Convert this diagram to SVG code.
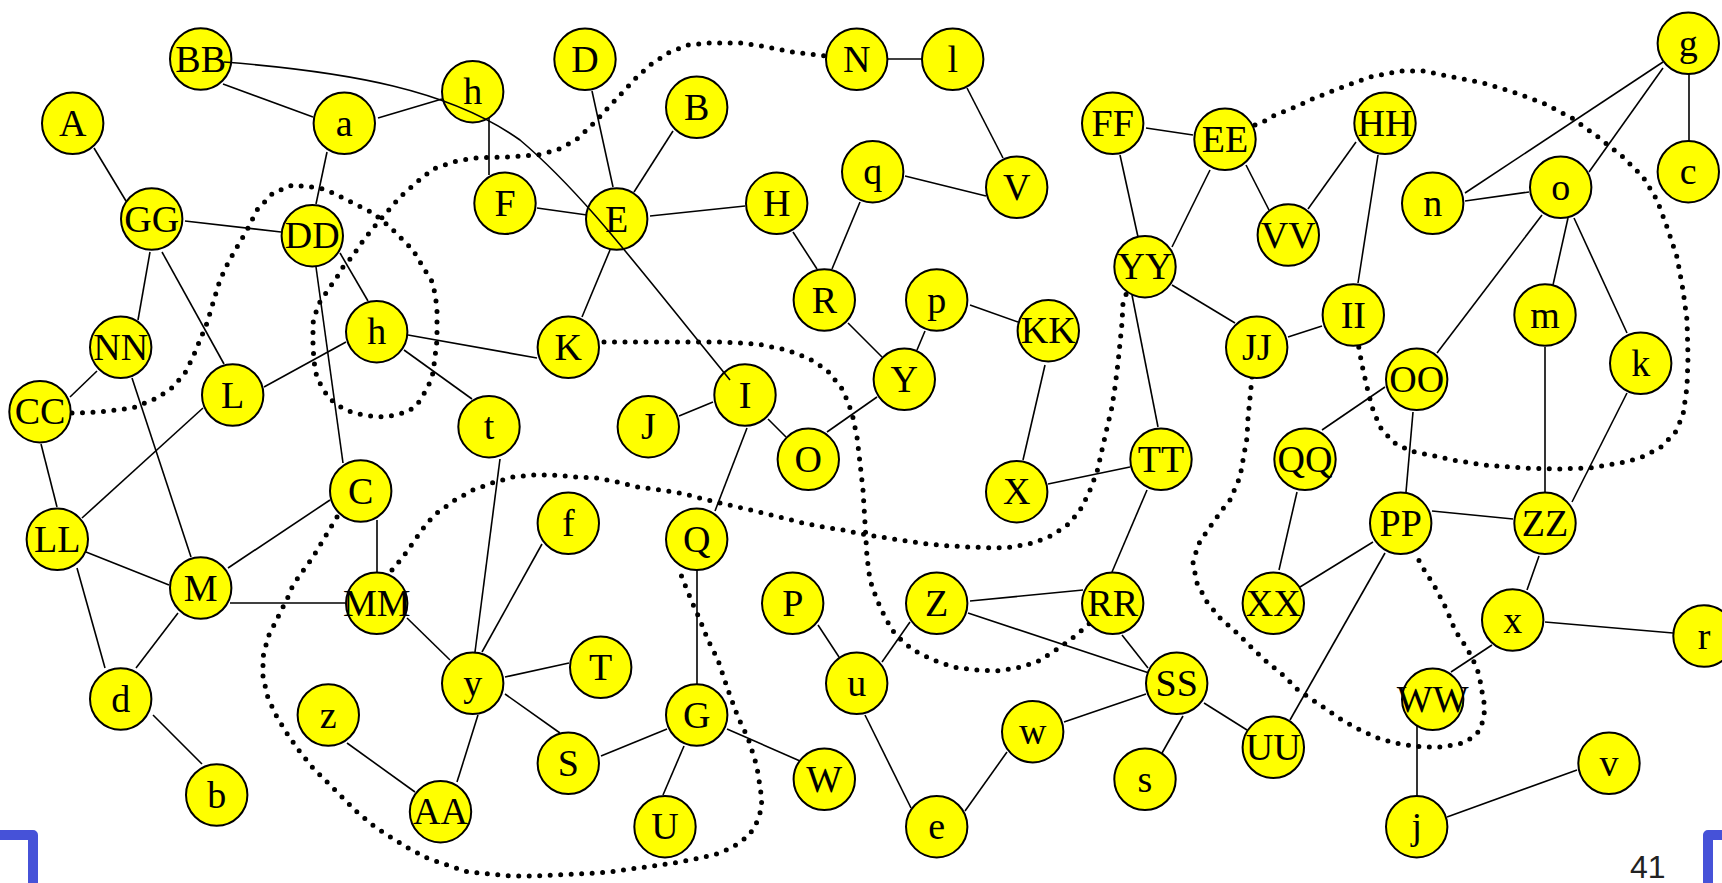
<svg xmlns="http://www.w3.org/2000/svg" width="1722" height="883" viewBox="0 0 1722 883">
<style>
.node circle{fill:#ffff00;stroke:#000;stroke-width:2}
.node text{font-family:"Liberation Serif","Times New Roman",serif;font-size:38px;text-anchor:middle;fill:#000}
.edge line,.edge path{stroke:#000;stroke-width:1.6;fill:none}
.edge path.dot{stroke:#000;stroke-width:5;stroke-dasharray:0 10.5;stroke-linecap:round;stroke-linejoin:round;fill:none}
.frame{stroke:#4652d8;stroke-width:10;fill:none;stroke-linejoin:round}
.pagenum{font-family:"Liberation Sans",Arial,sans-serif;font-size:32px;fill:#222}
</style>
<rect width="1722" height="883" fill="#fff"/>
<g id="connectors" class="edge">
<line x1="223" y1="84" x2="313" y2="117"/>
<line x1="378" y1="118" x2="442" y2="99"/>
<line x1="327" y1="152" x2="316" y2="204"/>
<line x1="489" y1="115" x2="489" y2="175"/>
<line x1="592" y1="91" x2="613" y2="187"/>
<line x1="673" y1="131" x2="634" y2="192"/>
<line x1="537" y1="208" x2="587" y2="215"/>
<line x1="650" y1="216" x2="745" y2="206"/>
<line x1="610" y1="250" x2="582" y2="317"/>
<line x1="793" y1="232" x2="817" y2="269"/>
<line x1="860" y1="202" x2="832" y2="269"/>
<line x1="886" y1="59" x2="924" y2="59"/>
<line x1="967" y1="88" x2="1003" y2="158"/>
<line x1="905" y1="176" x2="986" y2="196"/>
<line x1="1146" y1="128" x2="1193" y2="135"/>
<line x1="1120" y1="155" x2="1138" y2="237"/>
<line x1="1210" y1="170" x2="1172" y2="247"/>
<line x1="1246" y1="165" x2="1269" y2="210"/>
<line x1="1172" y1="285" x2="1235" y2="323"/>
<line x1="1132" y1="295" x2="1158" y2="427"/>
<line x1="1356" y1="142" x2="1308" y2="209"/>
<line x1="1378" y1="155" x2="1358" y2="283"/>
<line x1="1663" y1="62" x2="1465" y2="193"/>
<line x1="1663" y1="68" x2="1589" y2="172"/>
<line x1="1689" y1="74" x2="1689" y2="141"/>
<line x1="1465" y1="201" x2="1529" y2="192"/>
<line x1="1542" y1="215" x2="1437" y2="353"/>
<line x1="1568" y1="218" x2="1553" y2="285"/>
<line x1="1574" y1="218" x2="1627" y2="333"/>
<line x1="94" y1="148" x2="126" y2="201"/>
<line x1="185" y1="221" x2="281" y2="232"/>
<line x1="150" y1="252" x2="138" y2="320"/>
<line x1="162" y1="252" x2="224" y2="364"/>
<line x1="316" y1="267" x2="343" y2="463"/>
<line x1="340" y1="253" x2="368" y2="301"/>
<line x1="97" y1="371" x2="70" y2="397"/>
<line x1="132" y1="378" x2="191" y2="557"/>
<line x1="41" y1="444" x2="57" y2="507"/>
<line x1="203" y1="408" x2="82" y2="518"/>
<line x1="264" y1="387" x2="346" y2="342"/>
<line x1="408" y1="335" x2="537" y2="358"/>
<line x1="404" y1="350" x2="472" y2="399"/>
<line x1="330" y1="500" x2="228" y2="568"/>
<line x1="377" y1="520" x2="377" y2="573"/>
<line x1="86" y1="552" x2="169" y2="585"/>
<line x1="77" y1="568" x2="105" y2="668"/>
<line x1="230" y1="603" x2="345" y2="603"/>
<line x1="178" y1="613" x2="136" y2="668"/>
<line x1="153" y1="715" x2="202" y2="764"/>
<line x1="347" y1="743" x2="415" y2="792"/>
<line x1="713" y1="402" x2="679" y2="416"/>
<line x1="768" y1="419" x2="786" y2="437"/>
<line x1="827" y1="432" x2="877" y2="397"/>
<line x1="747" y1="428" x2="715" y2="511"/>
<line x1="500" y1="459" x2="475" y2="652"/>
<line x1="542" y1="544" x2="482" y2="652"/>
<line x1="848" y1="323" x2="882" y2="357"/>
<line x1="925" y1="331" x2="917" y2="350"/>
<line x1="970" y1="305" x2="1018" y2="322"/>
<line x1="1045" y1="365" x2="1023" y2="460"/>
<line x1="1048" y1="484" x2="1130" y2="467"/>
<line x1="1147" y1="490" x2="1112" y2="572"/>
<line x1="1288" y1="337" x2="1322" y2="326"/>
<line x1="1297" y1="492" x2="1279" y2="570"/>
<line x1="1385" y1="387" x2="1322" y2="430"/>
<line x1="1413" y1="412" x2="1406" y2="492"/>
<line x1="1545" y1="347" x2="1545" y2="492"/>
<line x1="1627" y1="393" x2="1572" y2="502"/>
<line x1="1432" y1="511" x2="1513" y2="519"/>
<line x1="1373" y1="542" x2="1300" y2="587"/>
<line x1="1385" y1="553" x2="1290" y2="720"/>
<line x1="1539" y1="556" x2="1527" y2="590"/>
<line x1="407" y1="618" x2="450" y2="660"/>
<line x1="505" y1="677" x2="569" y2="663"/>
<line x1="505" y1="694" x2="560" y2="733"/>
<line x1="478" y1="715" x2="457" y2="782"/>
<line x1="601" y1="756" x2="667" y2="729"/>
<line x1="697" y1="569" x2="697" y2="685"/>
<line x1="684" y1="746" x2="663" y2="795"/>
<line x1="727" y1="729" x2="800" y2="761"/>
<line x1="818" y1="625" x2="839" y2="657"/>
<line x1="882" y1="662" x2="910" y2="622"/>
<line x1="865" y1="715" x2="911" y2="808"/>
<line x1="970" y1="601" x2="1083" y2="590"/>
<line x1="968" y1="613" x2="1149" y2="673"/>
<line x1="1122" y1="635" x2="1148" y2="668"/>
<line x1="1146" y1="694" x2="1064" y2="722"/>
<line x1="1007" y1="752" x2="965" y2="811"/>
<line x1="1183" y1="716" x2="1162" y2="753"/>
<line x1="1204" y1="703" x2="1247" y2="730"/>
<line x1="1545" y1="622" x2="1673" y2="633"/>
<line x1="1492" y1="645" x2="1451" y2="672"/>
<line x1="1417" y1="726" x2="1417" y2="798"/>
<line x1="1447" y1="817" x2="1577" y2="770"/>
<path class="dot" d="M72,413 L100,412 L133,408 L157,398 L173,387 L185,373 L193,357 L200,340 L207,323 L213,303 L220,280 L228,263 L237,247 L247,230 L257,210 L273,193 L293,185 L320,188 L333,193 L353,203 L373,213 L390,227 L403,240 L413,250 L423,267 L433,283 L437,307 L437,323 L437,340 L435,357 L433,373 L428,387 L417,405 L407,412 L390,416 L377,417 L353,413 L337,405 L328,397 L318,380 L315,370 L313,348 L313,323 L318,305 L328,290 L337,277 L343,267 L352,257 L358,248 L365,238 L380,220 L400,197 L417,182 L433,169 L453,162 L474,158 L507,157 L538,155 L557,150 L576,140 L592,125 L606,110 L621,94 L635,79 L650,65 L668,53 L688,45 L709,43 L741,43 L762,46 L793,52 L825,56"/>
<path class="dot" d="M1255,125 L1263,122 L1273,116 L1283,112 L1300,105 L1310,100 L1340,88 L1370,77 L1400,71 L1423,71 L1453,77 L1483,83 L1513,92 L1543,103 L1572,118 L1598,137 L1623,157 L1643,177 L1657,200 L1667,227 L1677,257 L1683,290 L1687,320 L1688,357 L1687,387 L1683,415 L1675,433 L1660,448 L1640,458 L1620,463 L1590,468 L1557,469 L1523,468 L1483,465 L1453,460 L1430,455 L1410,451 L1393,442 L1380,427 L1372,407 L1367,387 L1362,365 L1358,343"/>
<path class="dot" d="M604,342 L643,342 L683,342 L723,342 L757,344 L787,350 L808,358 L827,370 L843,390 L852,413 L857,437 L860,463 L863,490 L865,523 L867,557 L870,580 L877,600 L883,613 L892,630 L903,642 L915,651 L933,660 L953,667 L975,670 L997,671 L1017,668 L1037,662 L1053,652 L1070,640 L1082,630 L1090,623"/>
<path class="dot" d="M392,570 L403,557 L417,537 L427,523 L437,513 L455,500 L473,490 L492,483 L513,477 L533,475 L553,475 L577,477 L597,478 L617,482 L638,487 L660,490 L680,493 L700,498 L720,503 L742,508 L763,513 L783,518 L803,523 L823,527 L843,530 L867,535 L887,538 L907,541 L927,544 L950,546 L970,547 L992,548 L1013,547 L1033,543 L1053,535 L1070,523 L1082,507 L1090,490 L1097,472 L1102,450 L1107,428 L1112,407 L1115,387 L1118,363 L1120,343 L1122,323 L1123,303 L1127,292"/>
<path class="dot" d="M337,517 L325,537 L313,557 L300,575 L293,585 L288,597 L278,617 L268,637 L263,657 L263,677 L268,698 L277,717 L288,735 L300,752 L313,768 L328,783 L343,798 L358,813 L375,827 L392,838 L408,848 L427,858 L447,865 L468,872 L490,874 L510,876 L532,876 L553,875 L575,874 L597,873 L617,871 L638,868 L660,865 L680,862 L700,858 L720,853 L733,847 L747,837 L755,827 L760,813 L762,800 L760,787 L758,773 L755,760 L748,738 L738,717 L728,690 L718,660 L708,640 L700,620 L692,602 L683,580 L680,572"/>
<path class="dot" d="M1252,377 L1250,398 L1248,418 L1247,438 L1243,460 L1240,477 L1230,500 L1222,510 L1210,527 L1203,537 L1198,545 L1193,563 L1197,583 L1207,602 L1220,618 L1237,633 L1252,648 L1267,662 L1283,675 L1298,690 L1323,707 L1342,720 L1360,730 L1380,739 L1400,744 L1422,747 L1443,747 L1463,743 L1473,737 L1480,730 L1483,720 L1485,708 L1483,697 L1480,680 L1477,668 L1472,658 L1467,648 L1460,638 L1455,630 L1448,613 L1443,602 L1438,593 L1433,583 L1427,575 L1417,557"/>
</g>
<g id="nodes">
<g id="node-BB" class="node" transform="translate(200.7,59)"><circle r="30.7"/><text y="12.5">BB</text></g>
<g id="node-A" class="node" transform="translate(72.7,123.3)"><circle r="30.7"/><text y="12.5">A</text></g>
<g id="node-a" class="node" transform="translate(344.3,123.3)"><circle r="30.7"/><text y="12.5">a</text></g>
<g id="node-h1" class="node" transform="translate(472.7,91.7)"><circle r="30.7"/><text y="12.5">h</text></g>
<g id="node-D" class="node" transform="translate(585,59.3)"><circle r="30.7"/><text y="12.5">D</text></g>
<g id="node-B" class="node" transform="translate(696.7,107.3)"><circle r="30.7"/><text y="12.5">B</text></g>
<g id="node-N" class="node" transform="translate(856.7,59.3)"><circle r="30.7"/><text y="12.5">N</text></g>
<g id="node-l" class="node" transform="translate(952.7,59.3)"><circle r="30.7"/><text y="12.5">l</text></g>
<g id="node-GG" class="node" transform="translate(151.7,219)"><circle r="30.7"/><text y="12.5">GG</text></g>
<g id="node-DD" class="node" transform="translate(312.3,235.7)"><circle r="30.7"/><text y="12.5">DD</text></g>
<g id="node-F" class="node" transform="translate(505,203.3)"><circle r="30.7"/><text y="12.5">F</text></g>
<g id="node-E" class="node" transform="translate(616.7,219)"><circle r="30.7"/><text y="12.5">E</text></g>
<g id="node-H" class="node" transform="translate(776.7,203.3)"><circle r="30.7"/><text y="12.5">H</text></g>
<g id="node-q" class="node" transform="translate(872.7,171.7)"><circle r="30.7"/><text y="12.5">q</text></g>
<g id="node-V" class="node" transform="translate(1016.7,187.3)"><circle r="30.7"/><text y="12.5">V</text></g>
<g id="node-FF" class="node" transform="translate(1112.7,123.3)"><circle r="30.7"/><text y="12.5">FF</text></g>
<g id="node-EE" class="node" transform="translate(1225,139.3)"><circle r="30.7"/><text y="12.5">EE</text></g>
<g id="node-VV" class="node" transform="translate(1288.3,235)"><circle r="30.7"/><text y="12.5">VV</text></g>
<g id="node-HH" class="node" transform="translate(1385,123.3)"><circle r="30.7"/><text y="12.5">HH</text></g>
<g id="node-YY" class="node" transform="translate(1145,266.7)"><circle r="30.7"/><text y="12.5">YY</text></g>
<g id="node-g" class="node" transform="translate(1688.3,43.3)"><circle r="30.7"/><text y="12.5">g</text></g>
<g id="node-n" class="node" transform="translate(1432.7,203.3)"><circle r="30.7"/><text y="12.5">n</text></g>
<g id="node-o" class="node" transform="translate(1560.7,187.3)"><circle r="30.7"/><text y="12.5">o</text></g>
<g id="node-c" class="node" transform="translate(1688.3,171.7)"><circle r="30.7"/><text y="12.5">c</text></g>
<g id="node-NN" class="node" transform="translate(120.7,347.3)"><circle r="30.7"/><text y="12.5">NN</text></g>
<g id="node-CC" class="node" transform="translate(40,411.7)"><circle r="30.7"/><text y="12.5">CC</text></g>
<g id="node-L" class="node" transform="translate(232.7,395)"><circle r="30.7"/><text y="12.5">L</text></g>
<g id="node-h2" class="node" transform="translate(376.7,331.7)"><circle r="30.7"/><text y="12.5">h</text></g>
<g id="node-K" class="node" transform="translate(568.3,347.3)"><circle r="30.7"/><text y="12.5">K</text></g>
<g id="node-R" class="node" transform="translate(824.3,300)"><circle r="30.7"/><text y="12.5">R</text></g>
<g id="node-p" class="node" transform="translate(936.7,300)"><circle r="30.7"/><text y="12.5">p</text></g>
<g id="node-KK" class="node" transform="translate(1048.3,330.7)"><circle r="30.7"/><text y="12.5">KK</text></g>
<g id="node-Y" class="node" transform="translate(904.3,379.3)"><circle r="30.7"/><text y="12.5">Y</text></g>
<g id="node-JJ" class="node" transform="translate(1256.7,347.3)"><circle r="30.7"/><text y="12.5">JJ</text></g>
<g id="node-II" class="node" transform="translate(1353.3,315)"><circle r="30.7"/><text y="12.5">II</text></g>
<g id="node-m" class="node" transform="translate(1545,315)"><circle r="30.7"/><text y="12.5">m</text></g>
<g id="node-k" class="node" transform="translate(1640.7,363.3)"><circle r="30.7"/><text y="12.5">k</text></g>
<g id="node-OO" class="node" transform="translate(1416.7,379.3)"><circle r="30.7"/><text y="12.5">OO</text></g>
<g id="node-t" class="node" transform="translate(489,426.7)"><circle r="30.7"/><text y="12.5">t</text></g>
<g id="node-J" class="node" transform="translate(648.3,426.7)"><circle r="30.7"/><text y="12.5">J</text></g>
<g id="node-I" class="node" transform="translate(745,395)"><circle r="30.7"/><text y="12.5">I</text></g>
<g id="node-O" class="node" transform="translate(808.3,459.3)"><circle r="30.7"/><text y="12.5">O</text></g>
<g id="node-X" class="node" transform="translate(1016.7,491.7)"><circle r="30.7"/><text y="12.5">X</text></g>
<g id="node-TT" class="node" transform="translate(1161,459.3)"><circle r="30.7"/><text y="12.5">TT</text></g>
<g id="node-QQ" class="node" transform="translate(1305,459.3)"><circle r="30.7"/><text y="12.5">QQ</text></g>
<g id="node-C" class="node" transform="translate(360.7,491)"><circle r="30.7"/><text y="12.5">C</text></g>
<g id="node-LL" class="node" transform="translate(57.3,539.3)"><circle r="30.7"/><text y="12.5">LL</text></g>
<g id="node-M" class="node" transform="translate(200.7,588)"><circle r="30.7"/><text y="12.5">M</text></g>
<g id="node-f" class="node" transform="translate(568.3,523.3)"><circle r="30.7"/><text y="12.5">f</text></g>
<g id="node-Q" class="node" transform="translate(696.7,539.3)"><circle r="30.7"/><text y="12.5">Q</text></g>
<g id="node-PP" class="node" transform="translate(1400.7,523.3)"><circle r="30.7"/><text y="12.5">PP</text></g>
<g id="node-ZZ" class="node" transform="translate(1545,523.3)"><circle r="30.7"/><text y="12.5">ZZ</text></g>
<g id="node-MM" class="node" transform="translate(376.7,603.3)"><circle r="30.7"/><text y="12.5">MM</text></g>
<g id="node-P" class="node" transform="translate(792.7,603.3)"><circle r="30.7"/><text y="12.5">P</text></g>
<g id="node-Z" class="node" transform="translate(936.7,603.3)"><circle r="30.7"/><text y="12.5">Z</text></g>
<g id="node-RR" class="node" transform="translate(1112.7,603.3)"><circle r="30.7"/><text y="12.5">RR</text></g>
<g id="node-XX" class="node" transform="translate(1273.3,603.3)"><circle r="30.7"/><text y="12.5">XX</text></g>
<g id="node-x" class="node" transform="translate(1512.7,620)"><circle r="30.7"/><text y="12.5">x</text></g>
<g id="node-r" class="node" transform="translate(1704,636)"><circle r="30.7"/><text y="12.5">r</text></g>
<g id="node-d" class="node" transform="translate(120.7,699)"><circle r="30.7"/><text y="12.5">d</text></g>
<g id="node-y" class="node" transform="translate(472.7,683.3)"><circle r="30.7"/><text y="12.5">y</text></g>
<g id="node-T" class="node" transform="translate(600.7,667.3)"><circle r="30.7"/><text y="12.5">T</text></g>
<g id="node-u" class="node" transform="translate(856.7,683.3)"><circle r="30.7"/><text y="12.5">u</text></g>
<g id="node-SS" class="node" transform="translate(1176.7,683.3)"><circle r="30.7"/><text y="12.5">SS</text></g>
<g id="node-WW" class="node" transform="translate(1432.7,699.3)"><circle r="30.7"/><text y="12.5">WW</text></g>
<g id="node-z" class="node" transform="translate(328.3,715)"><circle r="30.7"/><text y="12.5">z</text></g>
<g id="node-G" class="node" transform="translate(696.7,715)"><circle r="30.7"/><text y="12.5">G</text></g>
<g id="node-w" class="node" transform="translate(1032.7,731.7)"><circle r="30.7"/><text y="12.5">w</text></g>
<g id="node-UU" class="node" transform="translate(1273.3,747.3)"><circle r="30.7"/><text y="12.5">UU</text></g>
<g id="node-b" class="node" transform="translate(216.7,795)"><circle r="30.7"/><text y="12.5">b</text></g>
<g id="node-S" class="node" transform="translate(568.3,763.3)"><circle r="30.7"/><text y="12.5">S</text></g>
<g id="node-W" class="node" transform="translate(824.3,779.3)"><circle r="30.7"/><text y="12.5">W</text></g>
<g id="node-s" class="node" transform="translate(1145,779.3)"><circle r="30.7"/><text y="12.5">s</text></g>
<g id="node-v" class="node" transform="translate(1609,763.3)"><circle r="30.7"/><text y="12.5">v</text></g>
<g id="node-AA" class="node" transform="translate(440.5,811.7)"><circle r="30.7"/><text y="12.5">AA</text></g>
<g id="node-U" class="node" transform="translate(665,826.7)"><circle r="30.7"/><text y="12.5">U</text></g>
<g id="node-e" class="node" transform="translate(936.7,826.7)"><circle r="30.7"/><text y="12.5">e</text></g>
<g id="node-j" class="node" transform="translate(1416.7,826.7)"><circle r="30.7"/><text y="12.5">j</text></g>
</g>
<g id="connectors-over" class="edge">
<path d="M224,62 C350,72 450,90 520,140 C585,195 640,270 730,380"/>
</g>
<g id="page-frame">
<path class="frame" d="M0,835 H33 V883"/>
<path class="frame" d="M1722,835 H1708 V883"/>
<text class="pagenum" x="1630" y="878">41</text>
</g>
</svg>
